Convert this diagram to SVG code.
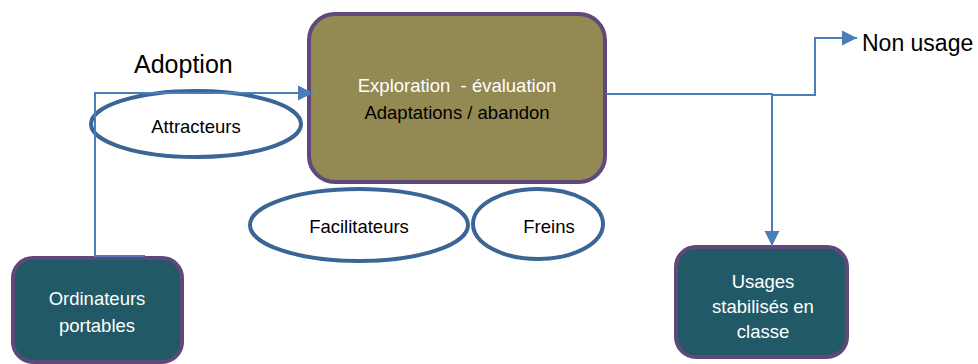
<svg xmlns="http://www.w3.org/2000/svg" width="978" height="364" viewBox="0 0 978 364">
<defs>
<marker id="arr" markerUnits="userSpaceOnUse" markerWidth="16" markerHeight="16" viewBox="0 0 16 16" refX="15" refY="8" orient="auto">
<path d="M0,0.5 L15,8 L0,15.5 Z" fill="#4A7EBB"/>
</marker>
<style>
.box{stroke:#5F497A;stroke-width:4}
.main{fill:#938953}
.teal{fill:#215967}
.ell{fill:#fff;stroke:#3A6594;stroke-width:4}
.t{font-family:"Liberation Sans",Arial,sans-serif;font-size:18.5px;text-anchor:middle;white-space:pre}
.w{fill:#fff}
.k{fill:#000}
.big{font-family:"Liberation Sans",Arial,sans-serif;font-size:25px;fill:#000}
.c{fill:none;stroke:#4A7EBB;stroke-width:2}
</style>
</defs>
<g id="exploration">
<rect class="box main" x="309" y="14" width="296" height="168" rx="26"/>
<text class="t w" x="457" y="92" xml:space="preserve">Exploration  - évaluation</text>
<text class="t k" x="457" y="119">Adaptations / abandon</text>
</g>
<g id="attracteurs">
<ellipse class="ell" cx="196" cy="124" rx="105" ry="33"/>
<text class="t k" x="196" y="133">Attracteurs</text>
</g>
<g id="facilitateurs">
<ellipse class="ell" cx="359" cy="225" rx="109" ry="36"/>
<text class="t k" x="359" y="233">Facilitateurs</text>
</g>
<g id="freins">
<ellipse class="ell" cx="538" cy="224" rx="65" ry="35"/>
<text class="t k" x="549" y="233">Freins</text>
</g>
<g id="ordinateurs">
<rect class="box teal" x="13" y="258" width="169" height="104" rx="20"/>
<text class="t w" x="97" y="305">Ordinateurs</text>
<text class="t w" x="97" y="332">portables</text>
</g>
<g id="usages">
<rect class="box teal" x="676" y="247" width="171" height="110" rx="20"/>
<text class="t w" x="763" y="288">Usages</text>
<text class="t w" x="763" y="313">stabilisés en</text>
<text class="t w" x="763" y="338">classe</text>
</g>
<g id="labels">
<text class="big" x="134" y="73">Adoption</text>
<text class="big" x="862" y="51" style="font-size:23px">Non usage</text>
</g>
<g id="connectors">
<path class="c" d="M145,256 L95,256 L95,93 L313,93" marker-end="url(#arr)"/>
<path class="c" d="M606,94 L772,94 L772,95 L815,95 L815,38 L857,38" marker-end="url(#arr)"/>
<path class="c" d="M772,94 L772,246" marker-end="url(#arr)"/>
</g>
</svg>
